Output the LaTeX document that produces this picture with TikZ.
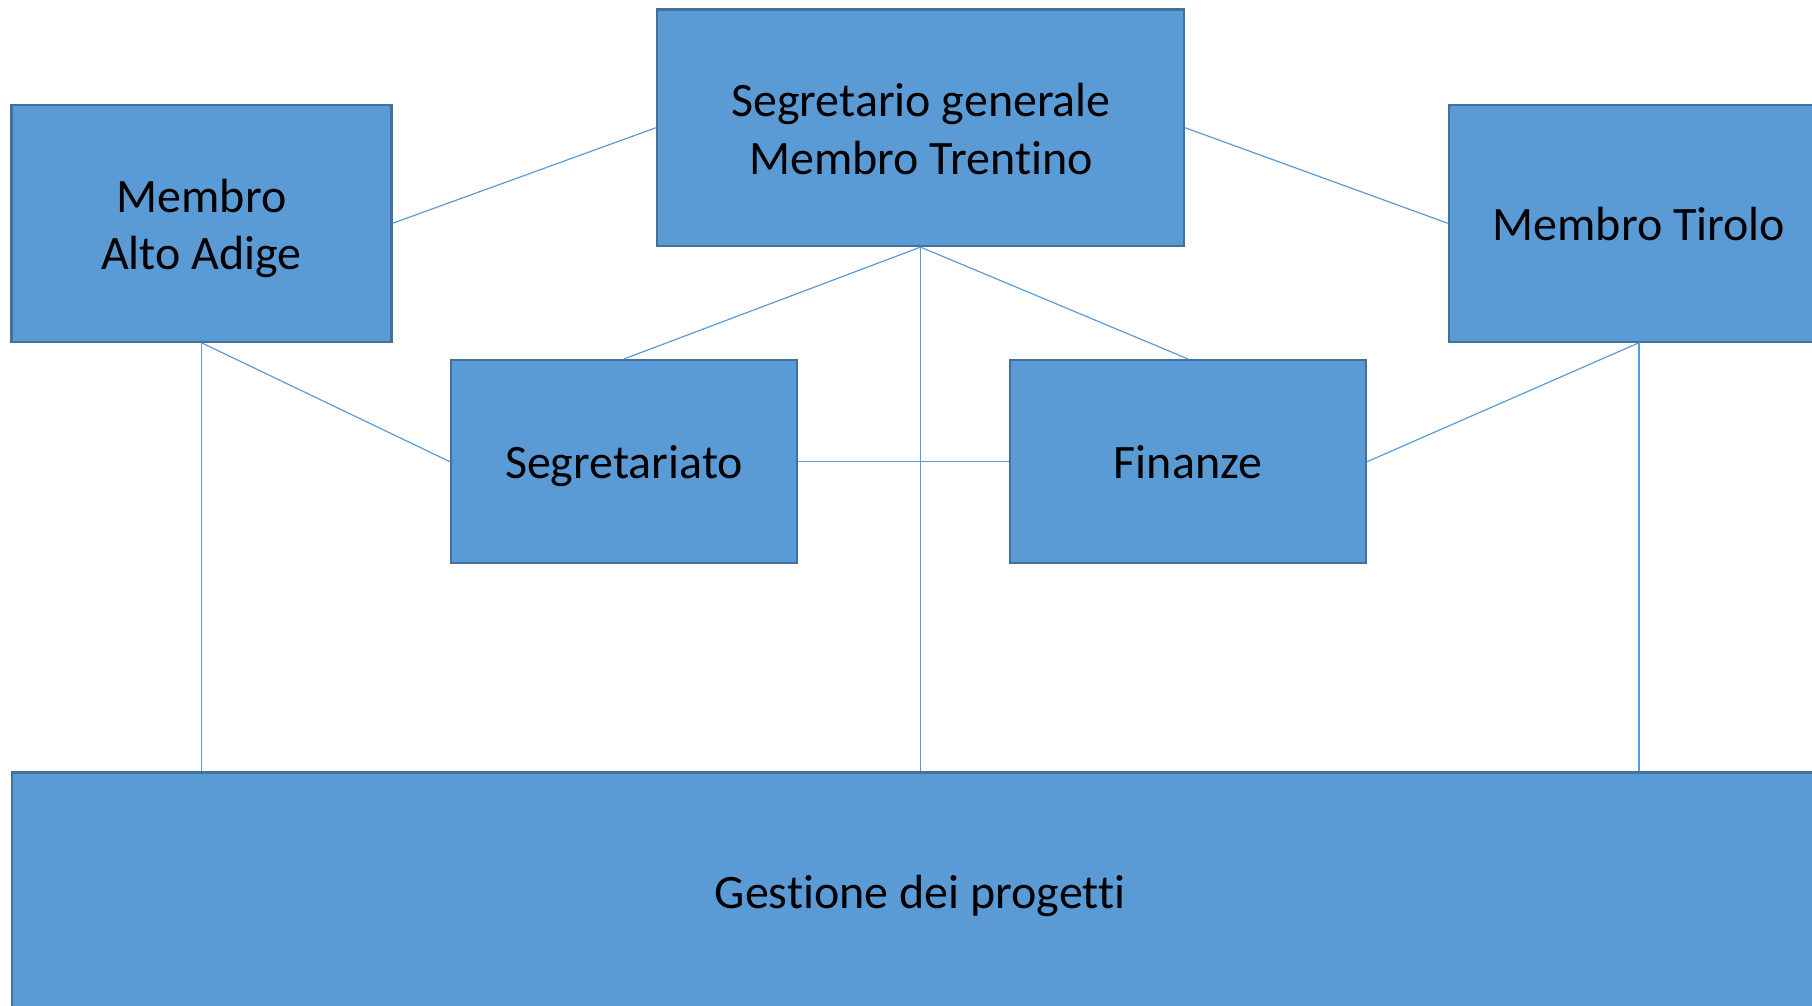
\documentclass[tikz,border=0pt]{standalone}
\usepackage{fontspec}
\setmainfont{Carlito}[Ligatures=NoCommon]
\definecolor{boxfill}{HTML}{5B9BD5}
\definecolor{boxline}{HTML}{41719C}
\begin{document}
\begin{tikzpicture}[x=0.5pt,y=-0.5pt,
  box/.style={draw=boxline,fill=boxfill,line width=1.1pt,inner sep=0pt,rectangle},
  lbl/.style={anchor=base,inner sep=0pt,font=\fontsize{24}{29}\selectfont},
  conn/.style={draw=boxfill,line width=0.6pt}]
\useasboundingbox (0,0) rectangle (1812,1006);
\clip (0,0) rectangle (1812,1006);
% boxes
\node[box,minimum width=263.5pt,minimum height=118.25pt] (top) at (920.5,127.75) {};
\node[box,minimum width=190pt,minimum height=118.35pt] (alto) at (201.5,223.3) {};
\node[box,minimum width=190pt,minimum height=118.35pt] (tir) at (1639,223.3) {};
\node[box,minimum width=173pt,minimum height=101.65pt] (segr) at (624,461.7) {};
\node[box,minimum width=178pt,minimum height=101.65pt] (fin) at (1188,461.7) {};
\node[box,minimum width=908.5pt,minimum height=118.75pt] (gest) at (920.3,891.3) {};
% connectors
\draw[conn] (top.west) -- (alto.east);
\draw[conn] (top.east) -- (tir.west);
\draw[conn] (top.south) -- (segr.north);
\draw[conn] (top.south) -- (fin.north);
\draw[conn] (top.south) -- (top.south |- gest.north);
\draw[conn] (alto.south) -- (segr.west);
\draw[conn] (alto.south) -- (alto.south |- gest.north);
\draw[conn] (tir.south) -- (fin.east);
\draw[conn] (tir.south) -- (tir.south |- gest.north);
\draw[conn] (segr.east) -- (fin.west);
% texts
\node[lbl] (t1) at (921,117) {Segretario generale};
\node[lbl] (t2) at (921,174.5) {Membro Trentino};
\node[lbl] (a1) at (201.5,213) {Membro};
\node[lbl] (a2) at (201.5,269.5) {Alto Adige};
\node[lbl] (ti) at (1639,241) {Membro Tirolo};
\node[lbl] (se) at (624,478.5) {Segretariato};
\node[lbl] (fi) at (1188,478.5) {Finanze};
\node[lbl] (ge) at (920,908.5) {Gestione dei progetti};
\end{tikzpicture}
\end{document}
